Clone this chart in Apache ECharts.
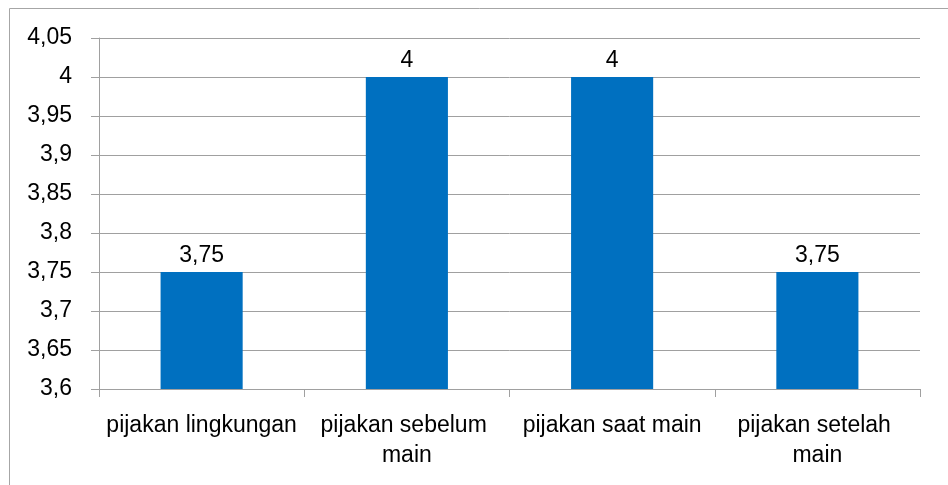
<!DOCTYPE html>
<html>
<head>
<meta charset="utf-8">
<script src="https://cdn.jsdelivr.net/npm/echarts@6/dist/echarts.min.js"></script>
<style>
  html, body { margin: 0; padding: 0; background: #fff; }
  #chart { width: 948px; height: 485px; }
</style>
</head>
<body>
<div id="chart"></div>
<script>
  // data
  var categories = ['pijakan lingkungan', 'pijakan sebelum main', 'pijakan saat main', 'pijakan setelah main'];
  var values = [3.75, 4, 4, 3.75];
  var yMin = 3.6, yMax = 4.05, yStep = 0.05;

  function comma(v) {
    return String(+v.toFixed(2)).replace('.', ',');
  }

  var chart = echarts.init(document.getElementById('chart'));
  var font = 'Liberation Sans, Arial, sans-serif';
  var option = {
    animation: false,
    graphic: [{
      type: 'rect',
      shape: { x: 9.5, y: 8.5, width: 960, height: 500 },
      style: { fill: 'none', stroke: '#a6a6a6', lineWidth: 1 },
      silent: true
    }],
    grid: { left: 99, right: 28, top: 38, bottom: 96 },
    xAxis: {
      type: 'category',
      data: categories,
      axisLine: { lineStyle: { color: '#a0a0a0' } },
      axisTick: { show: true, length: 8, lineStyle: { color: '#a0a0a0' } },
      axisLabel: {
        color: '#000', fontSize: 23, fontFamily: font, margin: 22,
        width: 204, overflow: 'break', lineHeight: 30, interval: 0
      }
    },
    yAxis: {
      type: 'value',
      min: yMin, max: yMax, interval: yStep,
      axisLine: { show: true, lineStyle: { color: '#a0a0a0' } },
      axisTick: { show: true, length: 8, lineStyle: { color: '#a0a0a0' } },
      splitLine: { lineStyle: { color: '#a0a0a0' } },
      axisLabel: {
        color: '#000', fontSize: 23, fontFamily: font, margin: 27,
        formatter: comma
      }
    },
    series: [{
      type: 'bar',
      data: values,
      barWidth: '40%',
      itemStyle: { color: '#0070c0' },
      label: {
        show: true, position: 'top', distance: 5,
        color: '#000', fontSize: 23, fontFamily: font,
        formatter: function (p) { return comma(p.value); }
      }
    }]
  };
  chart.setOption(option);
</script>
</body>
</html>
